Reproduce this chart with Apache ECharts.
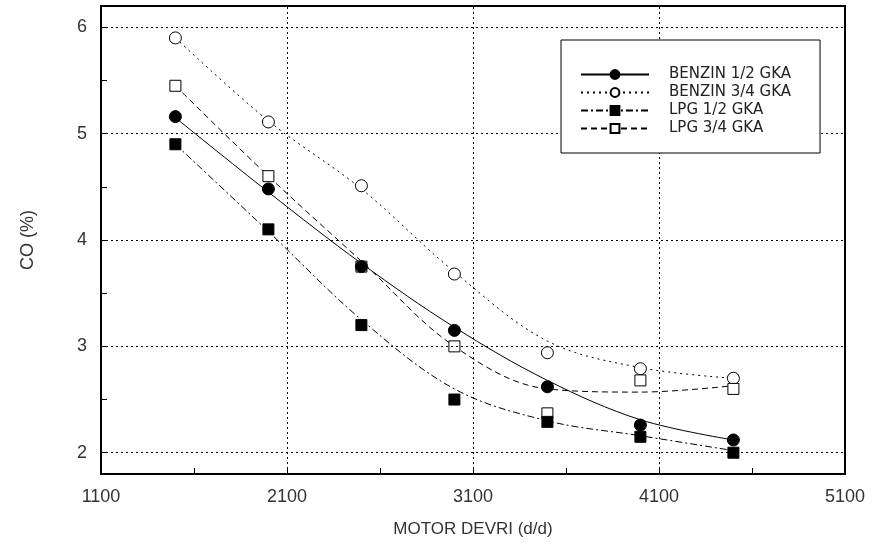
<!DOCTYPE html>
<html>
<head>
<meta charset="utf-8">
<script src="https://cdn.jsdelivr.net/npm/echarts@6/dist/echarts.min.js"></script>
<style>
  html, body { margin: 0; padding: 0; background: #fff; }
  #chart { width: 872px; height: 546px; }
</style>
</head>
<body>
<div id="chart"></div>
<script>
// motor speed (d/d) where the measurements were taken
const rpm = [1500, 2000, 2500, 3000, 3500, 4000, 4500]

// measured CO (%) values
const benzin12 = [5.16, 4.48, 3.75, 3.15, 2.62, 2.26, 2.12]
const benzin34 = [5.9, 5.11, 4.51, 3.68, 2.94, 2.79, 2.7]
const lpg12 = [4.9, 4.1, 3.2, 2.5, 2.29, 2.15, 2.0]
const lpg34 = [5.45, 4.6, 3.75, 3.0, 2.37, 2.68, 2.6]

// fitted curves
const benzin12Fit = [5.15, 4.45, 3.78, 3.18, 2.68, 2.31, 2.12]
const benzin34Fit = [5.9, 5.12, 4.48, 3.7, 3.05, 2.8, 2.7]
const lpg12Fit = [4.9, 4.08, 3.25, 2.6, 2.3, 2.16, 2.02]
const lpg34Fit = [5.45, 4.6, 3.8, 3.0, 2.6, 2.57, 2.63]

const names = ['BENZIN 1/2 GKA', 'BENZIN 3/4 GKA', 'LPG 1/2 GKA', 'LPG 3/4 GKA']

// ticks
const xLabels = [1100, 2100, 3100, 4100, 5100]
const xTicks = [1100, 1600, 2100, 2600, 3100, 3600, 4100, 4600, 5100]
const yLabels = [2, 3, 4, 5, 6]
const yTicks = [2, 2.5, 3, 3.5, 4, 4.5, 5, 5.5, 6]
const xGrid = [2100, 3100, 4100]
const yGrid = [2, 3, 4, 5, 6]

const pts = arr => rpm.map((x, i) => [x, arr[i]])

const styles = [
  { symbol: 'circle', fill: '#000', type: 'solid' },
  { symbol: 'circle', fill: '#fff', type: [2, 4] },
  { symbol: 'rect', fill: '#000', type: [7, 3, 2, 3] },
  { symbol: 'rect', fill: '#fff', type: [6, 4] }
]
const fits = [benzin12Fit, benzin34Fit, lpg12Fit, lpg34Fit]
const measured = [benzin12, benzin34, lpg12, lpg34]

const series = []
names.forEach((name, i) => {
  series.push({
    name: name,
    type: 'line',
    smooth: 0.35,
    data: pts(fits[i]),
    symbol: styles[i].symbol,
    symbolSize: 10,
    showSymbol: false,
    itemStyle: { color: styles[i].fill, borderColor: '#000', borderWidth: 1 },
    lineStyle: { color: '#000', width: 1, type: styles[i].type },
    z: 3
  })
  series.push({
    name: name,
    type: 'scatter',
    data: pts(measured[i]),
    symbol: styles[i].symbol,
    symbolSize: styles[i].symbol === 'rect' ? 11 : 12,
    itemStyle: {
      color: styles[i].fill,
      borderColor: '#000',
      borderWidth: 1,
      opacity: 1
    },
    // filled markers sit on top of the open ones
    z: styles[i].fill === '#000' ? 5 : 4
  })
})

// dotted grid
series.push({
  type: 'line',
  data: [],
  silent: true,
  z: 1,
  markLine: {
    silent: true,
    symbol: 'none',
    label: { show: false },
    animation: false,
    lineStyle: { color: '#000', width: 1, type: [2, 3] },
    data: xGrid.map(v => ({ xAxis: v })).concat(yGrid.map(v => ({ yAxis: v })))
  }
})

const myChart = echarts.init(document.getElementById('chart'))
myChart.setOption({
  animation: false,
  backgroundColor: '#fff',
  textStyle: { fontFamily: 'Liberation Sans' },
  grid: {
    left: 101,
    right: 27,
    top: 6,
    bottom: 72,
    show: true,
    borderColor: '#000',
    borderWidth: 2
  },
  legend: {
    orient: 'vertical',
    left: 561,
    top: 40,
    z: 10,
    data: names,
    itemWidth: 68,
    itemHeight: 11,
    itemGap: 3,
    padding: [27, 29, 17, 19],
    backgroundColor: '#fff',
    borderColor: '#000',
    borderWidth: 1,
    selectedMode: false,
    textStyle: {
      fontFamily: 'DejaVu Sans',
      fontSize: 15,
      lineHeight: 15,
      color: '#222',
      padding: [0, 0, 0, 15]
    }
  },
  xAxis: {
    type: 'value',
    min: 1100,
    max: 5100,
    name: 'MOTOR DEVRI (d/d)',
    nameLocation: 'middle',
    nameGap: 47,
    nameTextStyle: { fontSize: 17, color: '#333' },
    axisLine: { show: false },
    splitLine: { show: false },
    axisTick: {
      show: true,
      inside: true,
      length: 6,
      customValues: xTicks,
      lineStyle: { color: '#000' }
    },
    axisLabel: {
      fontSize: 18,
      color: '#333',
      margin: 14,
      customValues: xLabels,
      formatter: v => String(v)
    }
  },
  yAxis: {
    type: 'value',
    min: 1.8,
    max: 6.2,
    name: 'CO (%)',
    nameLocation: 'middle',
    nameGap: 64,
    nameRotate: 90,
    nameTextStyle: { fontSize: 18, color: '#333' },
    axisLine: { show: false },
    splitLine: { show: false },
    axisTick: {
      show: true,
      inside: true,
      length: 6,
      customValues: yTicks,
      lineStyle: { color: '#000' }
    },
    axisLabel: {
      fontSize: 18,
      color: '#333',
      margin: 14,
      customValues: yLabels,
      formatter: v => String(v)
    }
  },
  series: series
})
</script>
</body>
</html>
